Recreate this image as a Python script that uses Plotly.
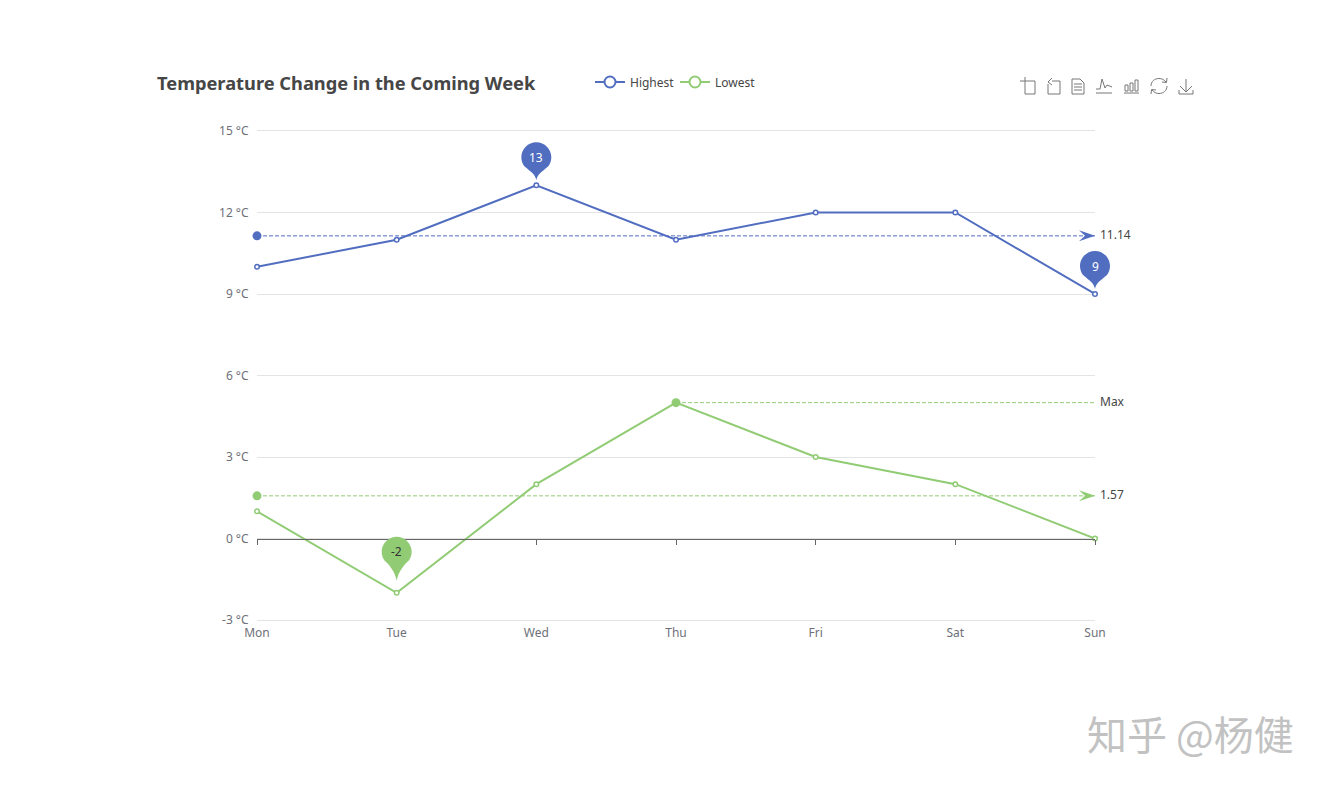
import plotly.graph_objects as go

days = ["Mon", "Tue", "Wed", "Thu", "Fri", "Sat", "Sun"]
highest = [10, 11, 13, 11, 12, 12, 9]
lowest = [1, -2, 2, 5, 3, 2, 0]
avg_highest = 11.14
avg_lowest = 1.57
y_ticks = [-3, 0, 3, 6, 9, 12, 15]

BLUE = "#516dc0"
GREEN = "#91cc75"
GRID = "#e4e4e4"
AXIS = "#666666"
FONT = "Noto Sans, Noto Sans CJK SC, sans-serif"
Y_MIN, Y_MAX = y_ticks[0], y_ticks[-1]
LEFT, RIGHT, TOP, BOTTOM = 257, 1095, 131, 620


def pin_path(tip, c, r=15):
    # teardrop in pixels above the anchor point, long thin tail
    k = 0.55 * r
    return (
        f"M0,{tip} C1,{tip + 6} {0.33 * r},{c - r} {0.8 * r},{c - 0.6 * r} "
        f"C{0.93 * r},{c - 0.43 * r} {r},{c - 0.2 * r} {r},{c} "
        f"C{r},{c + k} {k},{c + r} 0,{c + r} "
        f"C{-k},{c + r} {-r},{c + k} {-r},{c} "
        f"C{-r},{c - 0.2 * r} {-0.93 * r},{c - 0.43 * r} {-0.8 * r},{c - 0.6 * r} "
        f"C{-0.33 * r},{c - r} -1,{tip + 6} 0,{tip} Z"
    )


def pin(i, value, color, tip=5, center=28):
    # paper refs so the pin on the last category is not clipped
    return dict(
        type="path", path=pin_path(tip, center), layer="above",
        xref="paper", yref="paper", xsizemode="pixel", ysizemode="pixel",
        xanchor=i / (len(days) - 1), yanchor=(value - Y_MIN) / (Y_MAX - Y_MIN),
        fillcolor=color, line=dict(width=0),
    )


def arrow(value, color):
    return dict(
        type="path", path="M0,0 L-16,5.5 L-10,0 L-16,-5.5 Z", layer="above",
        xref="paper", yref="paper", xsizemode="pixel", ysizemode="pixel",
        xanchor=1, yanchor=(value - Y_MIN) / (Y_MAX - Y_MIN),
        fillcolor=color, line=dict(width=0),
    )


def icon(segments):
    # toolbox icon in page pixels; a 3-tuple of points is one bezier piece
    parts = []
    for seg in segments:
        for n, item in enumerate(seg):
            if len(item) == 3:
                pts = " ".join(f"{x - LEFT},{TOP - y}" for x, y in item)
                parts.append(f"C{pts}")
            else:
                cmd = "M" if n == 0 else "L"
                parts.append(f"{cmd}{item[0] - LEFT},{TOP - item[1]}")
    return dict(
        type="path", path=" ".join(parts), layer="above",
        xref="paper", yref="paper", xsizemode="pixel", ysizemode="pixel",
        xanchor=0, yanchor=1, line=dict(color="#777777", width=1),
    )


toolbox = [
    # crop
    [[(1020, 81), (1035, 81), (1035, 94), (1025, 94), (1025, 77)]],
    # restore crop
    [[(1052, 81), (1060, 81), (1060, 94), (1048, 94), (1048, 84)],
     [(1052, 78), (1048, 82), (1052, 85)]],
    # data view
    [[(1072, 79), (1080, 79), (1084, 83), (1084, 94), (1072, 94), (1072, 79)],
     [(1074, 84), (1082, 84)], [(1074, 87), (1082, 87)], [(1074, 90), (1082, 90)]],
    # line
    [[(1096, 89), (1100, 89), (1102, 79), (1105, 88), (1107, 85), (1112, 87)],
     [(1096, 93), (1112, 93)]],
    # bar
    [[(1124, 93), (1139, 93)],
     [(1125, 85), (1128, 85), (1128, 91), (1125, 91), (1125, 85)],
     [(1130, 83), (1133, 83), (1133, 91), (1130, 91), (1130, 83)],
     [(1135, 80), (1138, 80), (1138, 91), (1135, 91), (1135, 80)]],
    # refresh
    [[(1151, 86), ((1151, 81.5), (1154.5, 78.5), (1159, 78.5)),
      ((1161.5, 78.5), (1164, 79.5), (1166, 82))],
     [(1167, 86), ((1167, 90.5), (1163.5, 93.5), (1159, 93.5)),
      ((1156.5, 93.5), (1154, 92.5), (1152, 90))],
     [(1167, 78), (1166.5, 82.5), (1162, 82)], [(1151, 94), (1151.5, 89.5), (1156, 90)]],
    # download
    [[(1186, 79), (1186, 92)], [(1180, 86), (1186, 92), (1192, 86)],
     [(1179, 90), (1179, 94), (1193, 94), (1193, 90)]],
]

fig = go.Figure()

for name, values, color in [("Highest", highest, BLUE), ("Lowest", lowest, GREEN)]:
    fig.add_trace(go.Scatter(
        x=days, y=values, name=name, mode="lines+markers", showlegend=False,
        line=dict(color=color, width=2),
        marker=dict(color="white", size=4.5, line=dict(color=color, width=1.5)),
        cliponaxis=False,
    ))
    # bigger marker for the legend only
    fig.add_trace(go.Scatter(
        x=[None], y=[None], name=name, mode="lines+markers",
        line=dict(color=color, width=2),
        marker=dict(color="white", size=11, line=dict(color=color, width=2)),
    ))

# dashed average / max lines
for level, color, xs in [
    (avg_highest, BLUE, [days[0], days[-1]]),
    (avg_lowest, GREEN, [days[0], days[-1]]),
    (max(lowest), GREEN, [days[lowest.index(max(lowest))], days[-1]]),
]:
    fig.add_trace(go.Scatter(
        x=xs, y=[level, level], mode="lines+markers", showlegend=False,
        line=dict(color=color, width=1, dash="4px,2px"),
        marker=dict(color=color, size=[9, 0], opacity=1, line=dict(width=0)),
        cliponaxis=False, hoverinfo="skip",
    ))

# carries the axis line and ticks at zero
fig.add_trace(go.Scatter(
    x=days, y=[0] * len(days), xaxis="x2", mode="lines", showlegend=False,
    line=dict(width=0), hoverinfo="skip",
))

shapes = [
    pin(highest.index(max(highest)), max(highest), BLUE),
    pin(highest.index(min(highest)), min(highest), BLUE),
    pin(lowest.index(min(lowest)), min(lowest), GREEN, tip=12, center=41),
    arrow(avg_highest, BLUE),
    arrow(avg_lowest, GREEN),
] + [icon(t) for t in toolbox]

annotations = []
for value, shift, text_color, i in [
    (max(highest), 28, "white", highest.index(max(highest))),
    (min(highest), 28, "white", highest.index(min(highest))),
    (min(lowest), 41, "#333333", lowest.index(min(lowest))),
]:
    annotations.append(dict(
        x=days[i], y=value, text=str(value), showarrow=False, yshift=shift,
        font=dict(color=text_color, size=12),
    ))
for value, text in [
    (avg_highest, f"{avg_highest}"),
    (max(lowest), "Max"),
    (avg_lowest, f"{avg_lowest}"),
]:
    annotations.append(dict(
        x=days[-1], y=value, text=text, showarrow=False, xanchor="left", xshift=3,
        yshift=1, font=dict(color="#464646", size=12),
    ))
annotations.append(dict(
    xref="paper", yref="paper", x=1, y=0, xanchor="left", yanchor="middle",
    xshift=1085 - RIGHT, yshift=BOTTOM - 733, text="知乎 @杨健", showarrow=False,
    font=dict(color="#c2c2c2", size=40, family="Noto Sans CJK SC"),
))

fig.update_layout(
    width=1326,
    height=787,
    margin=dict(l=LEFT, r=1326 - RIGHT, t=TOP, b=787 - BOTTOM),
    paper_bgcolor="white",
    plot_bgcolor="white",
    font=dict(family=FONT, color="#6e7079", size=12),
    title=dict(
        text="<b>Temperature Change in the Coming Week</b>",
        x=157 / 1326, xanchor="left", y=1 - 84 / 787, yanchor="middle",
        font=dict(size=18.25, color="#464646"),
    ),
    legend=dict(
        orientation="h", x=(590 - LEFT) / (RIGHT - LEFT), xanchor="left",
        y=1 + (TOP - 82) / (BOTTOM - TOP), yanchor="middle",
        font=dict(color="#464646", size=12), bgcolor="rgba(0,0,0,0)",
        itemwidth=30, entrywidth=40,
    ),
    xaxis=dict(
        type="category", categoryorder="array", categoryarray=days,
        range=[0, len(days) - 1], showgrid=False, showline=True, mirror=True,
        linecolor=GRID, linewidth=1, ticks="outside", ticklen=2,
        tickcolor="rgba(0,0,0,0)", zeroline=False,
    ),
    xaxis2=dict(
        type="category", categoryorder="array", categoryarray=days,
        range=[0, len(days) - 1], overlaying="x", anchor="free",
        position=(0 - Y_MIN) / (Y_MAX - Y_MIN), side="bottom", showgrid=False,
        showline=True, linecolor=AXIS, linewidth=1, ticks="outside",
        ticklen=5, tickcolor=AXIS, showticklabels=False, zeroline=False,
    ),
    yaxis=dict(
        range=[Y_MIN, Y_MAX], tickvals=y_ticks,
        ticktext=[f"{v} °C" for v in y_ticks], showgrid=True,
        gridcolor=GRID, gridwidth=1, zeroline=False, showline=False,
        ticks="outside", ticklen=5, tickcolor="rgba(0,0,0,0)",
    ),
    shapes=shapes,
    annotations=annotations,
    hovermode=False,
)

fig.write_html(
    "out.html",
    config={"displayModeBar": False},
    post_script="document.body.style.margin='0';",
)
